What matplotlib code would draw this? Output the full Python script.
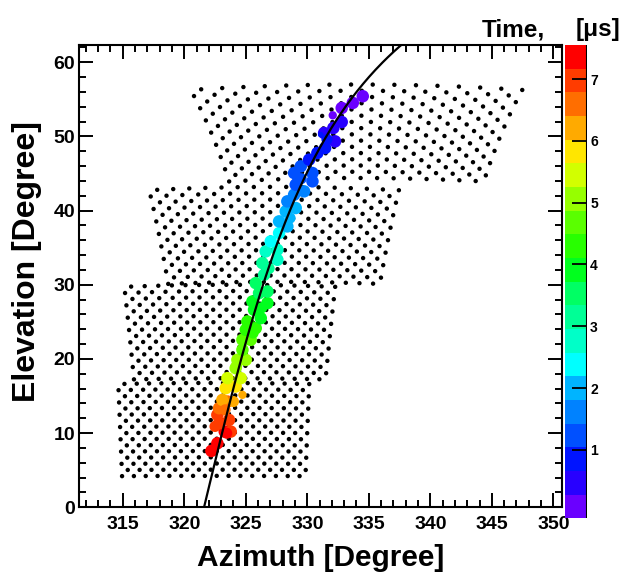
import numpy as np
import matplotlib.pyplot as plt
from matplotlib.colors import ListedColormap, Normalize

plt.rcParams['font.family'] = ['Liberation Sans', 'DejaVu Sans']
plt.rcParams['font.weight'] = 'bold'

# mirror pointing directions [deg]; every camera is a 16x16 hexagonal tube cluster
cam_az = [322.4, 323.7, 327.3, 334.0]
cam_el = [10.5, 23.7, 36.8, 50.7]
row_step = [0.835, 0.84, 0.853, 0.84]
tube_step = 0.965
n_tubes = 16

# triggered tubes: azimuth, elevation [deg], time [us], marker size [pt]
hit_az = [322.21, 322.69, 323.29, 323.78, 322.83, 323.64, 322.69, 322.83, 323.51, 323.10,
          324.73, 323.37, 324.18, 323.51, 324.59, 324.18, 325.00, 324.32, 324.73, 325.40,
          324.73, 325.00, 325.81, 325.13, 326.22, 325.67, 326.76, 325.54, 326.08, 326.76,
          325.81, 326.49, 326.35, 327.57, 326.62, 327.57, 327.03, 327.71, 328.38, 327.71,
          328.25, 329.06, 328.38, 328.93, 329.74, 329.06, 330.42, 328.93, 329.47, 330.42,
          330.15, 330.82, 331.45, 331.37, 332.26, 332.12, 332.80, 332.07, 332.80, 333.70,
          334.51, 331.09,
          323.45, 322.50, 323.32, 324.00, 324.27, 325.60, 326.30, 326.90, 328.60, 329.50,
          331.60]
hit_el = [7.60, 8.63, 10.21, 10.21, 11.33, 11.78, 12.46, 13.36, 14.26, 14.48,
          15.16, 16.06, 16.28, 17.41, 17.41, 18.76, 19.88, 19.88, 21.23, 22.58,
          22.58, 23.93, 24.15, 25.05, 25.50, 26.63, 27.53, 27.75, 28.88, 29.10,
          30.23, 31.35, 32.93, 33.37, 34.50, 34.72, 35.85, 36.97, 37.87, 38.55,
          39.90, 40.35, 41.25, 42.15, 42.60, 43.50, 43.95, 45.07, 45.97, 45.07,
          46.87, 47.77, 48.44, 50.47, 49.34, 51.14, 51.95, 52.85, 53.84, 54.52,
          55.42, 50.24,
          9.99, 10.90, 13.14, 14.26, 19.21, 23.50, 26.90, 32.20, 39.00, 44.30,
          49.60]
hit_t = [7.40, 7.35, 7.25, 7.05, 7.00, 6.90, 6.85, 6.60, 6.50, 6.30,
         6.30, 5.95, 5.85, 5.50, 5.45, 5.25, 5.00, 5.05, 4.75, 4.65,
         4.60, 4.35, 4.30, 4.20, 4.05, 3.95, 3.85, 3.85, 3.60, 3.55,
         3.45, 3.20, 3.00, 2.95, 2.80, 2.75, 2.45, 2.30, 2.05, 2.00,
         1.85, 1.85, 1.70, 1.55, 1.50, 1.30, 1.25, 1.20, 1.15, 1.10,
         1.00, 0.90, 0.85, 0.60, 0.65, 0.50, 0.45, 0.25, 0.20, 0.15,
         0.10, 0.70,
         7.30, 7.10, 6.70, 6.40, 5.10, 4.40, 3.90, 3.15, 1.95, 1.35,
         0.75]
hit_size = [9, 9, 9, 9, 9, 9, 9, 9, 9, 9,
            6, 9, 9, 9, 9, 9, 9, 9, 9, 9,
            9, 9, 9, 9, 9, 9, 9, 9, 9, 9,
            9, 9, 9, 9, 9, 9, 9, 9, 9, 9,
            9, 9, 9, 9, 9, 9, 9, 9, 9, 9,
            9, 9, 9, 9, 9, 9, 9, 6, 9, 9,
            9, 4,
            8, 8, 8, 8, 8, 8, 8, 8, 8, 8,
            8]

# two points of the fitted shower-detector plane
sdp_az = [321.61, 337.68]
sdp_el = [0.0, 62.39]

# 20-level time palette, earliest to latest
band_colors = ['#6a00ff', '#2800ff', '#0014ff', '#0050ff', '#0082ff',
               '#00b4ff', '#00ffff', '#00ffc8', '#00ff96', '#00ff64',
               '#00ff1e', '#28ff00', '#5aff00', '#96ff00', '#d2ff00',
               '#ffe600', '#ffaa00', '#ff6e00', '#ff3c00', '#ff0000']
t_min, t_max = -0.105, 7.55


def unit_vec(az, el):
    a, e = np.radians(az), np.radians(el)
    return np.array([np.cos(e) * np.cos(a), np.cos(e) * np.sin(a), np.sin(e)])


def to_azel(d):
    az = np.degrees(np.arctan2(d[..., 1], d[..., 0])) % 360
    el = np.degrees(np.arcsin(d[..., 2] / np.linalg.norm(d, axis=-1)))
    return az, el


def camera_tubes(az0, el0, dv):
    a, e = np.radians(az0), np.radians(el0)
    c = unit_vec(az0, el0)
    e_az = np.array([-np.sin(a), np.cos(a), 0.0])
    e_el = np.array([-np.sin(e) * np.cos(a), -np.sin(e) * np.sin(a), np.cos(e)])
    r, k = np.meshgrid(np.arange(n_tubes), np.arange(n_tubes), indexing='ij')
    u = np.radians((k - 7.75 + 0.5 * (r % 2)) * tube_step)
    v = np.radians((r - 7.5) * dv)
    d = c + np.tan(u)[..., None] * e_az + np.tan(v)[..., None] * e_el
    return to_azel(d)


tube_az, tube_el = [], []
for az0, el0, dv in zip(cam_az, cam_el, row_step):
    taz, tel = camera_tubes(az0, el0, dv)
    tube_az.append(taz.ravel())
    tube_el.append(tel.ravel())
tube_az = np.concatenate(tube_az)
tube_el = np.concatenate(tube_el)

# great circle through the two plane points
p1 = unit_vec(sdp_az[0], sdp_el[0])
p2 = unit_vec(sdp_az[1], sdp_el[1])
n = np.cross(p1, p2)
n /= np.linalg.norm(n)
w = np.cross(n, p1)
span = np.arccos(np.dot(p1, p2))
th = np.linspace(-0.1, span + 0.1, 300)
line_az, line_el = to_azel(np.outer(np.cos(th), p1) + np.outer(np.sin(th), w))

fig = plt.figure(figsize=(6.25, 5.72), dpi=100)
ax = fig.add_axes([79.3 / 625, 1 - 507.3 / 572, 482.4 / 625, 462.3 / 572])

ax.scatter(tube_az, tube_el, s=10, c='k', edgecolors='none', zorder=2)
cmap = ListedColormap(band_colors)
sc = ax.scatter(hit_az, hit_el, c=hit_t, cmap=cmap, norm=Normalize(t_min, t_max),
                s=np.array(hit_size) ** 2, edgecolors='none', zorder=3)
ax.plot(line_az, line_el, color='k', lw=1.6, zorder=4)

ax.set_xlim(311.47, 350.68)
ax.set_ylim(0, 62.33)
ax.set_xticks(np.arange(315, 351, 5))
ax.set_xticks(np.arange(312, 351, 1), minor=True)
ax.set_yticks(np.arange(0, 61, 10))
ax.set_yticks(np.arange(0, 63, 2), minor=True)
ax.tick_params(which='both', direction='in', top=True, right=True, width=1.4,
               labelsize=14)
ax.tick_params(which='major', length=10)
ax.tick_params(which='minor', length=5)
ax.tick_params(axis='x', pad=6)
ax.tick_params(axis='y', pad=3)
for s in ax.spines.values():
    s.set_linewidth(1.5)

fig.text(320.5 / 625, 1 - 566 / 572, 'Azimuth [Degree]', ha='center',
         va='baseline', fontsize=21.5, fontweight='bold')
fig.text(27 / 625, 1 - 262 / 572, 'Elevation [Degree]', ha='center',
         va='center', rotation=90, fontsize=23, fontweight='bold')

cax = fig.add_axes([565 / 625, 1 - 518.3 / 572, 22.3 / 625, 473.3 / 572])
cb = fig.colorbar(sc, cax=cax, ticks=np.arange(1, 8))
cb.outline.set_visible(False)
cax.axvline(1, color='k', lw=1.5)
cax.tick_params(direction='in', length=11, width=1.3, labelsize=10, pad=2)
cax.minorticks_off()

fig.text(545 / 625, 1 - 36 / 572, 'Time,', ha='right', va='baseline',
         fontsize=17.5, fontweight='bold')
fig.text(620 / 625, 1 - 36 / 572, '[\u03bcs]', ha='right', va='baseline',
         fontsize=17.5, fontweight='bold')

fig.savefig('out.png', dpi=100)
